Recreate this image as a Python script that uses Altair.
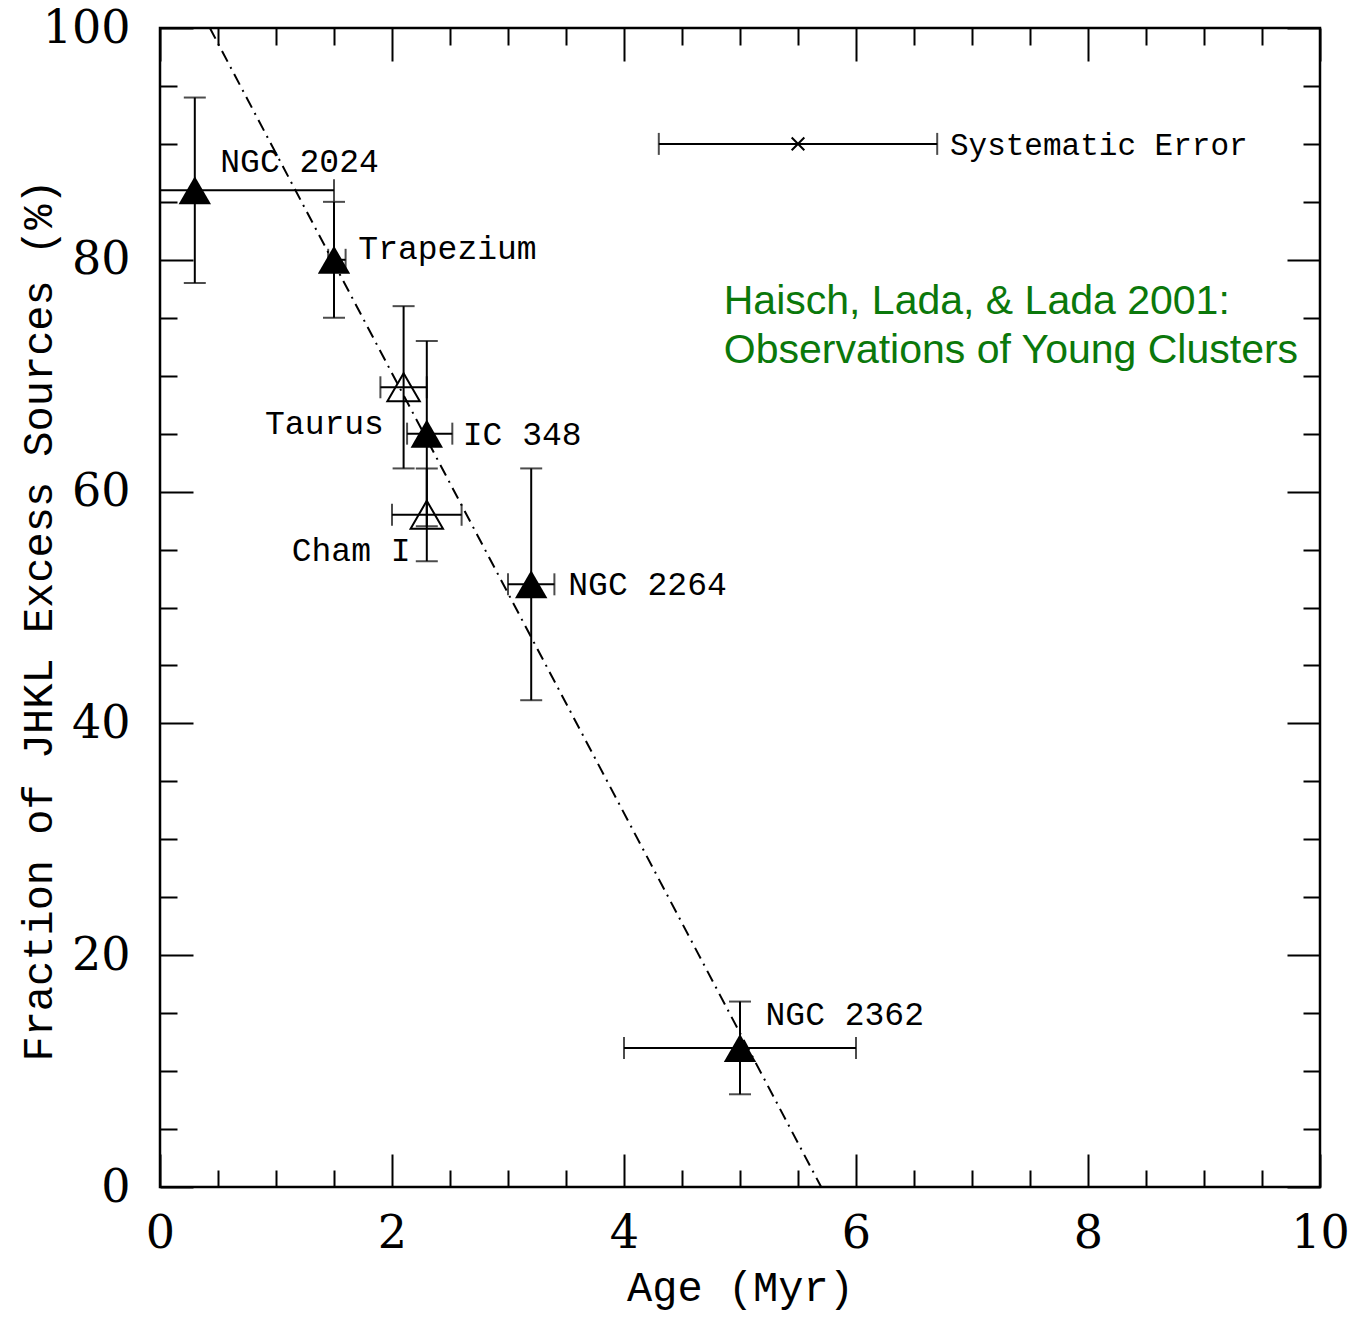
import altair as alt
import pandas as pd

# ---- data ----
names = ["NGC 2024", "Trapezium", "Taurus", "IC 348", "Cham I", "NGC 2264", "NGC 2362"]
age = [0.3, 1.5, 2.1, 2.3, 2.3, 3.2, 5.0]
age_lo = [0.0, 1.45, 1.9, 2.13, 2.0, 3.0, 4.0]
age_hi = [1.5, 1.6, 2.3, 2.52, 2.6, 3.4, 6.0]
frac = [86, 80, 69, 65, 58, 52, 12]
frac_lo = [78, 75, 62, 57, 54, 42, 8]
frac_hi = [94, 85, 76, 73, 62, 62, 16]
filled = [True, True, False, True, False, True, True]
label_x = [0.52, 1.71, 1.93, 2.61, 2.16, 3.52, 5.22]
label_y = [88.4, 80.9, 65.8, 64.9, 54.9, 51.9, 14.8]
label_align = ["left", "left", "right", "left", "right", "left", "left"]

sys_age = [5.5]
sys_lo = [4.3]
sys_hi = [6.7]
sys_frac = [90]
sys_label = ["Systematic Error"]
sys_label_x = [6.81]
sys_label_y = [89.8]

fit_age = [0.43, 5.70]
fit_frac = [100, 0]

note_lines = ["Haisch, Lada, & Lada 2001:", "Observations of Young Clusters"]
note_x = [4.86, 4.86]
note_y = [76.4, 72.1]

x_major = [0, 2, 4, 6, 8, 10]
x_minor = [0.5, 1, 1.5, 2.5, 3, 3.5, 4.5, 5, 5.5, 6.5, 7, 7.5, 8.5, 9, 9.5]
y_major = [0, 20, 40, 60, 80, 100]
y_minor = [v for v in range(5, 100, 5) if v % 20 != 0]

df = pd.DataFrame(dict(name=names, age=age, age_lo=age_lo, age_hi=age_hi,
                       frac=frac, frac_lo=frac_lo, frac_hi=frac_hi,
                       filled=filled, lx=label_x, ly=label_y, align=label_align))
sys_df = pd.DataFrame(dict(age=sys_age, age_lo=sys_lo, age_hi=sys_hi, frac=sys_frac,
                           label=sys_label, lx=sys_label_x, ly=sys_label_y))
fit_df = pd.DataFrame(dict(age=fit_age, frac=fit_frac))
note_df = pd.DataFrame(dict(text=note_lines, x=note_x, y=note_y))

xs = alt.Scale(domain=[0, 10], nice=False, zero=False)
ys = alt.Scale(domain=[0, 100], nice=False, zero=False)

TICK_FONT = "DejaVu Serif"
TITLE_FONT = "Liberation Mono"
LABEL_FONT = "Liberation Mono"


def make_axis(orient, values, size, labels=False, title=None, pad=0, title_pad=0, **extra):
    kw = dict(orient=orient, values=values, tickSize=size, offset=-size,
              domain=False, grid=False, labels=labels, ticks=True,
              tickColor="black", tickWidth=2, title=title)
    if labels:
        kw.update(labelFont=TICK_FONT, labelFontSize=46, labelColor="black",
                  labelPadding=pad, labelFlush=False, labelOverlap=False,
                  labelBound=False)
    if title is not None:
        kw.update(titleFont=TITLE_FONT, titleFontSize=42, titleFontWeight="normal",
                  titleColor="black", titlePadding=title_pad)
    kw.update(extra)
    return alt.Axis(**kw)


ax_xb_major = make_axis("bottom", x_major, 33, labels=True, title="Age (Myr)", pad=24, title_pad=11)
ax_xb_minor = make_axis("bottom", x_minor, 17)
ax_xt_major = make_axis("top", x_major, 33)
ax_xt_minor = make_axis("top", x_minor, 17)
ax_yl_major = make_axis("left", y_major, 33, labels=True,
                        title="Fraction of JHKL Excess Sources (%)", pad=30, title_pad=-18,
                        titleY=592)
ax_yl_minor = make_axis("left", y_minor, 17)
ax_yr_major = make_axis("right", y_major, 33)
ax_yr_minor = make_axis("right", y_minor, 17)

# fit line (carries main axes)
fit = alt.Chart(fit_df).mark_line(color="black", strokeWidth=2, strokeDash=[12, 6, 2, 6]).encode(
    x=alt.X("age:Q", scale=xs, axis=ax_xb_major),
    y=alt.Y("frac:Q", scale=ys, axis=ax_yl_major),
)

base = alt.Chart(df)

v_err = base.mark_rule(color="black", strokeWidth=2).encode(
    x=alt.X("age:Q", scale=xs, axis=ax_xb_minor),
    y=alt.Y("frac_lo:Q", scale=ys, axis=ax_yl_minor),
    y2="frac_hi:Q",
)
h_err = base.mark_rule(color="black", strokeWidth=2).encode(
    x=alt.X("age_lo:Q", scale=xs, axis=ax_xt_major),
    x2="age_hi:Q",
    y=alt.Y("frac:Q", scale=ys, axis=ax_yr_major),
)

cap_kw = dict(color="black", thickness=2, size=22)
cap_ylo = base.mark_tick(orient="horizontal", **cap_kw).encode(
    x=alt.X("age:Q", scale=xs, axis=None), y=alt.Y("frac_lo:Q", scale=ys, axis=None))
cap_yhi = base.mark_tick(orient="horizontal", **cap_kw).encode(
    x=alt.X("age:Q", scale=xs, axis=None), y=alt.Y("frac_hi:Q", scale=ys, axis=None))
cap_xlo = base.mark_tick(orient="vertical", **cap_kw).encode(
    x=alt.X("age_lo:Q", scale=xs, axis=None), y=alt.Y("frac:Q", scale=ys, axis=None))
cap_xhi = base.mark_tick(orient="vertical", **cap_kw).encode(
    x=alt.X("age_hi:Q", scale=xs, axis=None), y=alt.Y("frac:Q", scale=ys, axis=None))

pts_filled = base.transform_filter("datum.filled").mark_point(
    shape="triangle-up", size=1050, filled=True, color="black", opacity=1).encode(
    x=alt.X("age:Q", scale=xs, axis=ax_xt_minor),
    y=alt.Y("frac:Q", scale=ys, axis=ax_yr_minor),
)
pts_open = base.transform_filter("!datum.filled").mark_point(
    shape="triangle-up", size=1050, filled=False, color="black", strokeWidth=2, opacity=1).encode(
    x=alt.X("age:Q", scale=xs, axis=None),
    y=alt.Y("frac:Q", scale=ys, axis=None),
)

lab_left = base.transform_filter("datum.align == 'left'").mark_text(
    align="left", baseline="middle", font=LABEL_FONT, fontSize=33, color="black").encode(
    x=alt.X("lx:Q", scale=xs, axis=None), y=alt.Y("ly:Q", scale=ys, axis=None), text="name:N")
lab_right = base.transform_filter("datum.align == 'right'").mark_text(
    align="right", baseline="middle", font=LABEL_FONT, fontSize=33, color="black").encode(
    x=alt.X("lx:Q", scale=xs, axis=None), y=alt.Y("ly:Q", scale=ys, axis=None), text="name:N")

sbase = alt.Chart(sys_df)
sys_rule = sbase.mark_rule(color="black", strokeWidth=2).encode(
    x=alt.X("age_lo:Q", scale=xs, axis=None), x2="age_hi:Q",
    y=alt.Y("frac:Q", scale=ys, axis=None))
sys_cap_lo = sbase.mark_tick(orient="vertical", **cap_kw).encode(
    x=alt.X("age_lo:Q", scale=xs, axis=None), y=alt.Y("frac:Q", scale=ys, axis=None))
sys_cap_hi = sbase.mark_tick(orient="vertical", **cap_kw).encode(
    x=alt.X("age_hi:Q", scale=xs, axis=None), y=alt.Y("frac:Q", scale=ys, axis=None))
sys_pt = sbase.mark_point(shape="M-1,-1L1,1M1,-1L-1,1", size=160, filled=False,
                          color="black", strokeWidth=2, opacity=1).encode(
    x=alt.X("age:Q", scale=xs, axis=None), y=alt.Y("frac:Q", scale=ys, axis=None))
sys_txt = sbase.mark_text(align="left", baseline="middle", font=LABEL_FONT,
                          fontSize=31, color="black").encode(
    x=alt.X("lx:Q", scale=xs, axis=None), y=alt.Y("ly:Q", scale=ys, axis=None), text="label:N")

note = alt.Chart(note_df).mark_text(align="left", baseline="middle", font="Liberation Sans",
                                    fontSize=41, color="#0b780b").encode(
    x=alt.X("x:Q", scale=xs, axis=None), y=alt.Y("y:Q", scale=ys, axis=None), text="text:N")

chart = alt.layer(
    fit, v_err, h_err, cap_ylo, cap_yhi, cap_xlo, cap_xhi,
    pts_filled, pts_open, lab_left, lab_right,
    sys_rule, sys_cap_lo, sys_cap_hi, sys_pt, sys_txt, note,
).resolve_axis(x="independent", y="independent").properties(
    width=1160, height=1159,
    autosize=alt.AutoSizeParams(type="none"),
    padding={"left": 152, "top": 20, "right": 43, "bottom": 124},
    background="white",
).configure_view(stroke="black", strokeWidth=2.5)

chart.save("out.html", embed_options={"renderer": "svg", "actions": False})
